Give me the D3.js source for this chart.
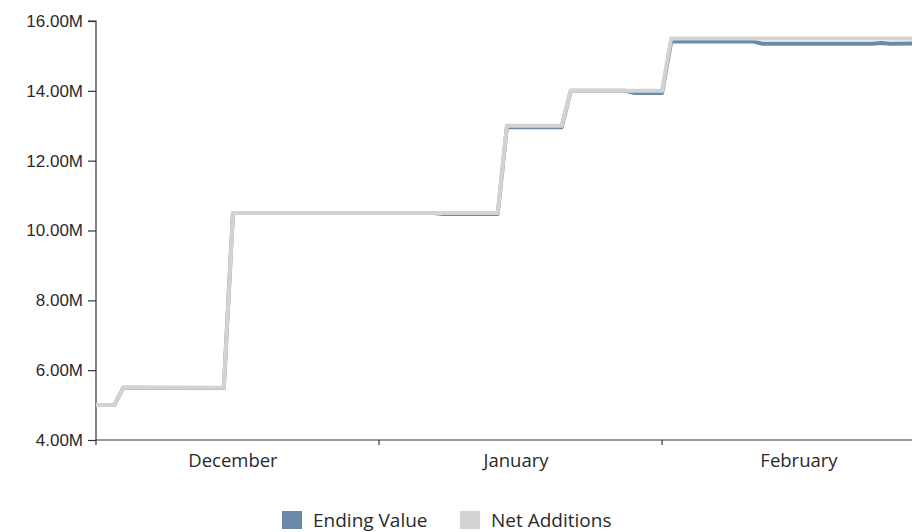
<!DOCTYPE html>
<html>
<head>
<meta charset="utf-8">
<script src="https://cdn.jsdelivr.net/npm/d3@7"></script>
<style>
  html, body { margin: 0; padding: 0; background: #fff; }
  svg { display: block; font-family: "Open Sans", "Noto Sans", sans-serif; }
  .axis path, .axis line { stroke: #333; stroke-width: 1.2; }
  .axis text { fill: #2a2a2a; font-size: 17px; }
  .axis text.month { font-size: 18.5px; }
  .legend text { fill: #2a2a2a; font-size: 19px; }
</style>
</head>
<body>
<svg id="chart" width="912" height="532"></svg>
<script>
// Daily totals (millions) at the days where the curve changes
const netDates = ["2022-12-01","2022-12-03","2022-12-04","2022-12-15","2022-12-16",
                  "2023-01-14","2023-01-15","2023-01-21","2023-01-22","2023-02-01",
                  "2023-02-02","2023-03-01"];
const netValues = [5.0, 5.0, 5.5, 5.5, 10.5, 10.5, 13.0, 13.0, 14.0, 14.0, 15.5, 15.5];

const endDates = ["2022-12-01","2022-12-03","2022-12-04","2022-12-15","2022-12-16",
                  "2023-01-07","2023-01-08","2023-01-14","2023-01-15","2023-01-21",
                  "2023-01-22","2023-01-28","2023-01-29","2023-02-01","2023-02-02",
                  "2023-02-11","2023-02-12","2023-02-24","2023-02-25","2023-02-26",
                  "2023-03-01"];
const endValues = [5.0, 5.0, 5.5, 5.49, 10.5, 10.5, 10.47, 10.47, 12.96, 12.96,
                   14.0, 14.0, 13.94, 13.94, 15.41, 15.41, 15.35, 15.35, 15.37, 15.35,
                   15.36];

const yTicks = [4, 6, 8, 10, 12, 14, 16];
const monthLabels = ["December", "January", "February"];
const monthLabelDates = ["2022-12-16", "2023-01-16", "2023-02-16"];
const monthBoundaries = ["2022-12-01", "2023-01-01", "2023-02-01"];

const seriesNames = ["Ending Value", "Net Additions"];
const seriesColors = ["#6a8aaa", "#d3d3d3"];

const parse = d3.utcParse("%Y-%m-%d");
const svg = d3.select("#chart");

const plotLeft = 96, plotBottom = 440, plotTop = 21;
const dayPx = 9.13;

const x = d3.scaleUtc()
  .domain([parse("2022-12-01"), parse("2023-03-01")])
  .range([plotLeft, plotLeft + 90 * dayPx]);
const y = d3.scaleLinear().domain([4, 16]).range([plotBottom, plotTop]);

// y axis
const yAxis = svg.append("g").attr("class", "axis")
  .attr("transform", `translate(${plotLeft},0)`)
  .call(d3.axisLeft(y).tickValues(yTicks).tickSize(8).tickPadding(5)
    .tickFormat(d => d3.format(".2f")(d) + "M"));
yAxis.select(".domain").attr("d", `M-8,${plotTop}H0V${plotBottom + 5}`);

// x axis: boundary ticks, month labels in the middle of each month
const xg = svg.append("g").attr("class", "axis");
xg.append("line").attr("x1", plotLeft).attr("x2", 912)
  .attr("y1", plotBottom).attr("y2", plotBottom);
xg.selectAll("line.tick").data(monthBoundaries.slice(1)).join("line")
  .attr("class", "tick")
  .attr("x1", d => x(parse(d))).attr("x2", d => x(parse(d)))
  .attr("y1", plotBottom).attr("y2", plotBottom + 5);
xg.selectAll("text").data(monthLabels).join("text")
  .attr("class", "month")
  .attr("x", (d, i) => x(parse(monthLabelDates[i])))
  .attr("y", plotBottom + 27)
  .attr("text-anchor", "middle")
  .text(d => d);

// lines
const line = d3.line().x(d => x(d[0])).y(d => y(d[1]));
const endSeries = endDates.map((d, i) => [parse(d), endValues[i]]);
const netSeries = netDates.map((d, i) => [parse(d), netValues[i]]);

svg.append("path").datum(endSeries)
  .attr("fill", "none").attr("stroke", seriesColors[0])
  .attr("stroke-width", 4).attr("stroke-linejoin", "round")
  .attr("d", line);
svg.append("path").datum(netSeries)
  .attr("fill", "none").attr("stroke", seriesColors[1])
  .attr("stroke-width", 4).attr("stroke-linejoin", "miter")
  .attr("d", line);

// legend
const legend = svg.append("g").attr("class", "legend");
const legendX = [282, 460];
seriesNames.forEach((name, i) => {
  const g = legend.append("g").attr("transform", `translate(${legendX[i]},511)`);
  g.append("rect").attr("width", 20).attr("height", 18).attr("fill", seriesColors[i]);
  g.append("text").attr("x", 31).attr("y", 16).text(name);
});
</script>
</body>
</html>
